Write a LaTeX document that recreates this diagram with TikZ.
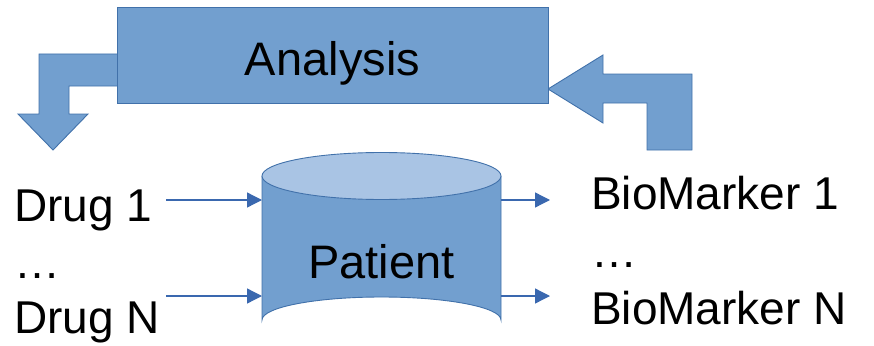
\documentclass[tikz,border=0pt]{standalone}
\usepackage{fontspec}
\setmainfont{Liberation Sans}
\usetikzlibrary{arrows.meta}
\definecolor{shapefill}{RGB}{114,159,207}
\definecolor{shapetop}{RGB}{169,196,228}
\definecolor{shapeline}{RGB}{65,113,170}
\definecolor{arrowblue}{RGB}{58,104,175}
\tikzset{
  blockshape/.style={fill=shapefill, draw=shapeline, line width=0.9pt, line join=miter},
  lbl/.style={inner sep=0pt, anchor=base west, font=\fontsize{46}{50}\selectfont},
  flow/.style={draw=arrowblue, line width=1.3pt, -{Triangle[length=15pt,width=15pt]}}
}
\begin{document}
\begin{tikzpicture}[x=1pt,y=-1pt]
\useasboundingbox (0,0) rectangle (874,345);
% bent arrows
\draw[blockshape] (120,54) -- (39,54) -- (39,114) -- (18,114) -- (53,150) -- (88,114) -- (69,114) -- (69,86) -- (120,86);
\draw[blockshape] (548,89) -- (603,55) -- (603,74) -- (692,74) -- (692,150) -- (647,150) -- (647,103) -- (603,103) -- (603,123) -- cycle;
% analysis box
\node[blockshape, minimum width=431pt, minimum height=96pt, inner sep=0pt, anchor=north west,
      font=\fontsize{47}{50}\selectfont] (analysis) at (117,7) {};
\node[inner sep=0pt, anchor=base, font=\fontsize{47}{50}\selectfont] (analysistxt) at (332.5,75) {Analysis};
% cylinder
\draw[blockshape] (262,176) -- (262,320) arc[start angle=180, end angle=360, x radius=119.5, y radius=23] -- (501,176);
\draw[blockshape, fill=shapetop] (381.5,176) ellipse[x radius=119.5, y radius=23.5];
\node[inner sep=0pt, anchor=base, font=\fontsize{47}{50}\selectfont] (patient) at (381.5,278) {Patient};
\coordinate (in1) at (262,200);
\coordinate (in2) at (262,296);
\coordinate (out1) at (501,200);
\coordinate (out2) at (501,296);
% labels
\node[lbl] (drug1) at (14,221) {Drug 1};
\node[lbl] (drugdots) at (14,278) {\dots};
\node[lbl] (drugN) at (14,333) {Drug N};
\node[lbl] (bio1) at (591,209) {BioMarker 1};
\node[lbl] (biodots) at (591,267) {\dots};
\node[lbl] (bioN) at (591,324) {BioMarker N};
\coordinate (s1) at (166,200);
\coordinate (s2) at (166,296);
\coordinate (e1) at (550,200);
\coordinate (e2) at (550,296);
\draw[flow] (s1) -- (in1);
\draw[flow] (s2) -- (in2);
\draw[flow] (out1) -- (e1);
\draw[flow] (out2) -- (e2);
\end{tikzpicture}
\end{document}
